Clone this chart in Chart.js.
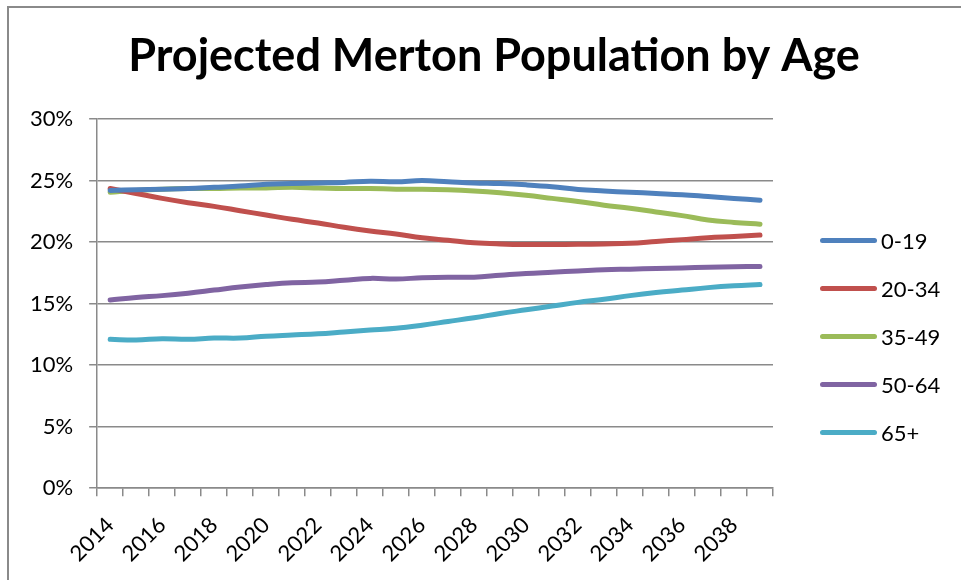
<!DOCTYPE html>
<html>
<head>
<meta charset="utf-8">
<script src="https://cdn.jsdelivr.net/npm/chart.js@4"></script>
<style>
    html, body { margin: 0; padding: 0; background: #fff; overflow: hidden; }
    body { width: 961px; height: 580px; position: relative; font-family: Lato, sans-serif; }
    #frame {
        position: absolute; left: 7px; top: 6px;
        border-left: 2px solid #8a8a8a; border-top: 2px solid #8a8a8a;
        width: 1000px; height: 620px;
    }
    #frame canvas { display: block; }
    #legend {
        position: absolute; left: 820px; top: 216px;
        display: flex; flex-direction: column;
        font-family: Lato, sans-serif; font-size: 22px; color: #000;
    }
    .legend-item { display: flex; align-items: center; height: 48px; }
    .legend-line { width: 57px; height: 5px; border-radius: 3px; margin-right: 4px; }
</style>
</head>
<body>
<div id="frame"><canvas id="popChart" width="970" height="586"></canvas></div>
<div id="legend"></div>
<script>
// Share of Merton population by age band, per projection year (%)
const years = ['2014', '2015', '2016', '2017', '2018', '2019', '2020', '2021', '2022', '2023', '2024', '2025', '2026',
    '2027', '2028', '2029', '2030', '2031', '2032', '2033', '2034', '2035', '2036', '2037', '2038', '2039'];
const age0to19 = [24.2, 24.25, 24.3, 24.35, 24.45, 24.55, 24.7, 24.75, 24.8, 24.85, 24.95, 24.9, 25.0,
    24.9, 24.8, 24.75, 24.65, 24.5, 24.27, 24.15, 24.05, 23.95, 23.85, 23.7, 23.55, 23.4];
const age20to34 = [24.35, 23.95, 23.55, 23.2, 22.9, 22.55, 22.2, 21.85, 21.55, 21.2, 20.9, 20.65, 20.35,
    20.15, 19.95, 19.85, 19.8, 19.8, 19.82, 19.85, 19.9, 20.05, 20.2, 20.35, 20.45, 20.57];
const age35to49 = [24.05, 24.2, 24.3, 24.35, 24.35, 24.4, 24.4, 24.45, 24.4, 24.35, 24.35, 24.3, 24.3,
    24.25, 24.15, 24.0, 23.8, 23.55, 23.3, 23.0, 22.75, 22.45, 22.15, 21.8, 21.6, 21.45];
const age50to64 = [15.3, 15.5, 15.65, 15.85, 16.1, 16.35, 16.55, 16.7, 16.75, 16.9, 17.05, 17.0, 17.1,
    17.15, 17.15, 17.3, 17.45, 17.55, 17.65, 17.75, 17.8, 17.85, 17.9, 17.95, 18.0, 18.02];
const age65plus = [12.1, 12.05, 12.15, 12.1, 12.2, 12.2, 12.35, 12.45, 12.55, 12.7, 12.85, 13.0, 13.25,
    13.55, 13.85, 14.2, 14.5, 14.8, 15.1, 15.35, 15.65, 15.9, 16.1, 16.3, 16.45, 16.55];
const yTicks = [0, 5, 10, 15, 20, 25, 30];

const axisGrey = '#8a8a8a';
const font = { family: 'Lato, sans-serif', size: 22 };

function band(label, data, color) {
    return {
        label: label,
        data: data,
        borderColor: color,
        backgroundColor: color,
        borderWidth: 5,
        borderCapStyle: 'round',
        borderJoinStyle: 'round',
        tension: 0.4,
        pointRadius: 0,
        fill: false
    };
}

const chart = new Chart(document.getElementById('popChart'), {
    type: 'line',
    data: {
        labels: years,
        datasets: [
            band('0-19', age0to19, '#4f81bd'),
            band('20-34', age20to34, '#c0504d'),
            band('35-49', age35to49, '#9bbb59'),
            band('50-64', age50to64, '#8064a2'),
            band('65+', age65plus, '#4bacc6')
        ]
    },
    options: {
        responsive: false,
        animation: false,
        layout: { padding: { left: 5, right: 5, top: 0, bottom: 11 } },
        plugins: {
            legend: { display: false },
            tooltip: { enabled: false },
            title: {
                display: true,
                text: 'Projected Merton Population by Age',
                color: '#000',
                font: { family: 'Lato, sans-serif', size: 45, weight: 'bold' },
                padding: { top: 21, bottom: 36 }
            }
        },
        scales: {
            x: {
                type: 'category',
                offset: true,
                grid: { offset: true, drawOnChartArea: false, drawTicks: true, tickLength: 8, color: axisGrey, lineWidth: 1.5 },
                border: { display: true, color: axisGrey, width: 1.5 },
                ticks: {
                    autoSkip: false,
                    maxRotation: 45,
                    minRotation: 45,
                    color: '#000',
                    font: font,
                    padding: 16,
                    callback: (val, i) => (i % 2 === 0 ? years[i] : '')
                },
                // rotated year labels may hang past the y axis; keep the plot edge fixed
                afterFit: (scale) => { scale.paddingLeft = 0; }
            },
            y: {
                min: 0,
                max: 30,
                afterBuildTicks: (scale) => { scale.ticks = yTicks.map(v => ({ value: v })); },
                grid: { color: axisGrey, lineWidth: 1.5, tickLength: 8 },
                border: { display: true, color: axisGrey, width: 1.5 },
                ticks: {
                    color: '#000',
                    font: font,
                    padding: 16,
                    callback: (v) => v + '%'
                }
            },
            // empty gutter on the right that leaves room for the legend
            gutter: {
                type: 'linear',
                position: 'right',
                grid: { display: false },
                border: { display: false },
                ticks: { display: false },
                afterFit: (scale) => { scale.width = 201; }
            }
        }
    }
});

// Legend drawn as HTML next to the plot, from the chart's own datasets
const legendBox = document.getElementById('legend');
chart.data.datasets.forEach(ds => {
    const item = document.createElement('div');
    item.className = 'legend-item';
    item.innerHTML = `<span class="legend-line" style="background:${ds.borderColor}"></span><span>${ds.label}</span>`;
    legendBox.appendChild(item);
});
</script>
</body>
</html>
